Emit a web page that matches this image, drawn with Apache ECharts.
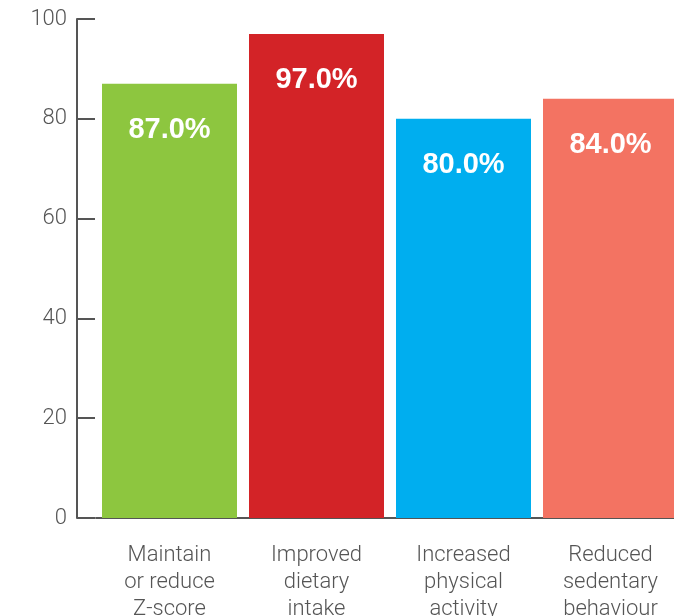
<!DOCTYPE html>
<html>
<head>
<meta charset="utf-8">
<script src="https://cdn.jsdelivr.net/npm/echarts@6/dist/echarts.min.js"></script>
<style>
html,body{margin:0;padding:0;background:#fff;overflow:hidden;}
#c{width:674px;height:616px;}
</style>
</head>
<body>
<div id="c"></div>
<script>
const categories = ['Maintain\nor reduce\nZ-score', 'Improved\ndietary\nintake', 'Increased\nphysical\nactivity', 'Reduced\nsedentary\nbehaviour'];
const values = [87.0, 97.0, 80.0, 84.0];
const colors = ['#8DC63F', '#D32327', '#00AEEF', '#F37362'];
const yTicks = [0, 20, 40, 60, 80, 100];

const chart = echarts.init(document.getElementById('c'));
chart.setOption({
  animation: false,
  grid: { left: 96, top: 19, width: 588, height: 499, outerBoundsMode: 'none', containLabel: false },
  xAxis: {
    type: 'category',
    data: categories,
    axisLine: { lineStyle: { color: '#555', width: 2 } },
    axisTick: { show: false },
    axisLabel: {
      color: '#555', fontSize: 22, fontFamily: 'Roboto', fontWeight: 300,
      lineHeight: 27, margin: 24, interval: 0
    }
  },
  yAxis: {
    type: 'value',
    min: yTicks[0], max: yTicks[yTicks.length - 1], interval: 20,
    offset: 19,
    splitLine: { show: false },
    axisLine: { show: true, lineStyle: { color: '#555', width: 2 } },
    axisTick: { show: true, inside: true, length: 18, lineStyle: { color: '#555', width: 2 } },
    axisLabel: { color: '#555', fontSize: 22, fontFamily: 'Roboto', fontWeight: 300, margin: 10, padding: [6, 0, 0, 0] }
  },
  series: [{
    type: 'bar',
    barWidth: 135,
    data: values.map((v, i) => ({ value: v, itemStyle: { color: colors[i] } })),
    label: {
      show: true, position: 'insideTop', distance: 32,
      color: '#fff', fontSize: 29, fontWeight: 'bold', fontFamily: 'Liberation Sans',
      formatter: p => p.value.toFixed(1) + '%'
    }
  }]
});
</script>
</body>
</html>
